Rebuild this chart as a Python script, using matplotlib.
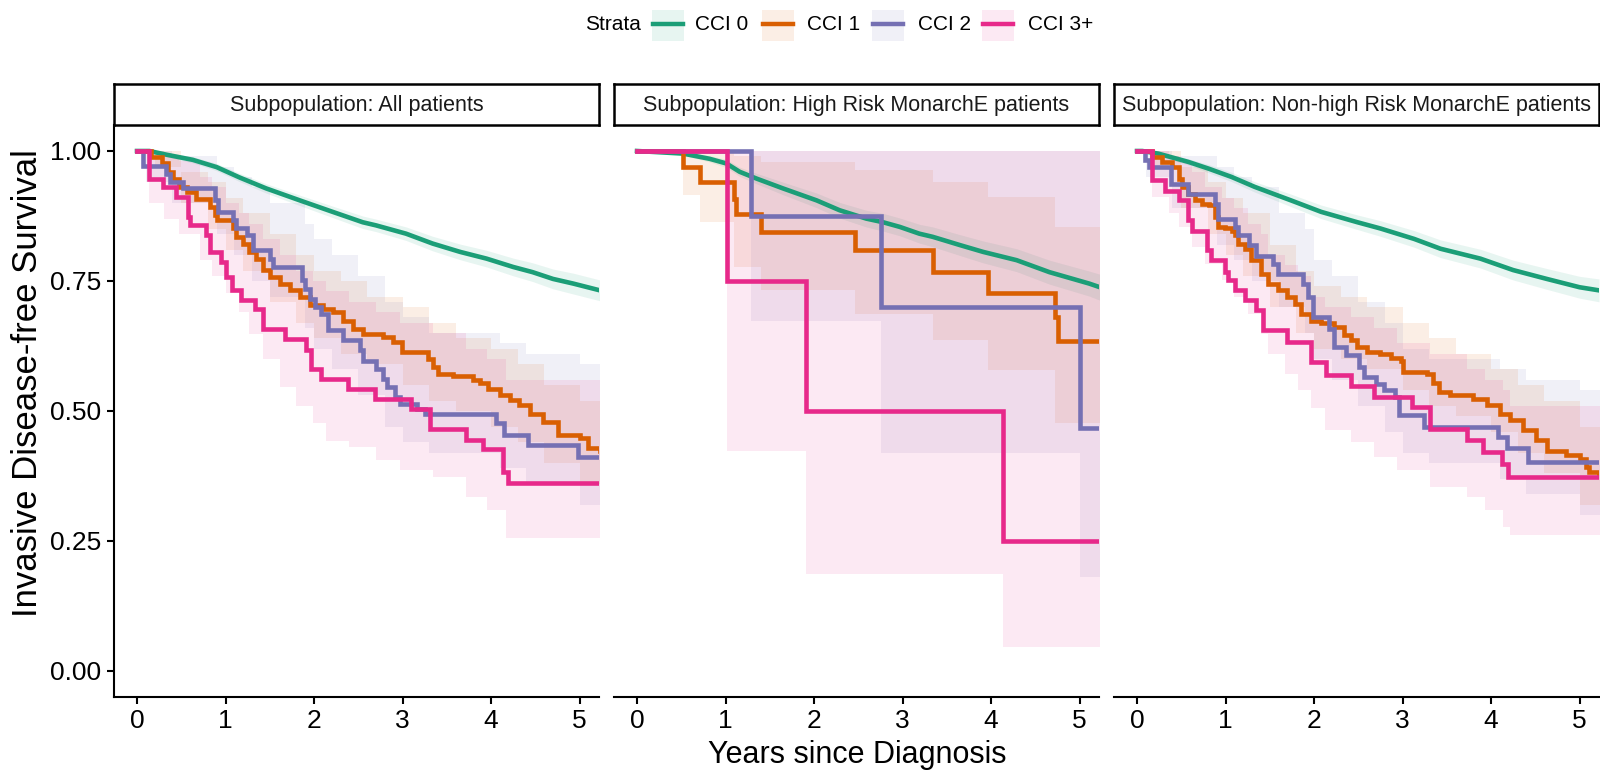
import matplotlib.pyplot as plt
from matplotlib.patches import Rectangle
from matplotlib.lines import Line2D

plt.rcParams['font.family'] = ['Liberation Sans', 'DejaVu Sans']

# ------------------------------------------------------------
# Kaplan-Meier estimates: time (years) -> iDFS probability
# ------------------------------------------------------------
strata = ['CCI 0', 'CCI 1', 'CCI 2', 'CCI 3+']
colors = ['#1B9E77', '#D95F02', '#7570B3', '#E7298A']
panel_titles = ['Subpopulation: All patients',
                'Subpopulation: High Risk MonarchE patients',
                'Subpopulation: Non-high Risk MonarchE patients']
x_ticks = [0, 1, 2, 3, 4, 5]
y_ticks = [0.0, 0.25, 0.5, 0.75, 1.0]
y_ticklabels = ['0.00', '0.25', '0.50', '0.75', '1.00']

# --- All patients ---
all_cci0_t = [0, 0.14, 0.33, 0.63, 0.90, 1.16, 1.46, 1.84, 2.21, 2.55, 2.70, 3.04, 3.34, 3.65, 3.95, 4.25, 4.47, 4.70, 4.93, 5.23]
all_cci0_s = [1.0, 1.0, 0.993, 0.983, 0.969, 0.949, 0.928, 0.905, 0.883, 0.863, 0.857, 0.841, 0.822, 0.806, 0.793, 0.777, 0.767, 0.754, 0.745, 0.732]
all_cci0_lo = [1.0, 0.998, 0.989, 0.977, 0.962, 0.941, 0.919, 0.895, 0.872, 0.851, 0.845, 0.828, 0.808, 0.791, 0.777, 0.760, 0.749, 0.735, 0.725, 0.712]
all_cci0_hi = [1.0, 1.0, 0.997, 0.989, 0.976, 0.957, 0.937, 0.915, 0.894, 0.875, 0.869, 0.854, 0.836, 0.821, 0.809, 0.794, 0.785, 0.773, 0.765, 0.752]

all_cci1_t = [0, 0.16, 0.28, 0.35, 0.41, 0.48, 0.56, 0.67, 0.82, 0.88, 0.90, 1.09, 1.12, 1.20, 1.27, 1.35, 1.42, 1.50, 1.61, 1.73,
              1.84, 1.95, 2.10, 2.22, 2.33, 2.44, 2.55, 2.78, 2.89, 2.99, 3.29, 3.35, 3.40, 3.57, 3.80, 3.87, 3.97, 4.10, 4.21, 4.32,
              4.44, 4.59, 4.76, 5.00, 5.10, 5.23]
all_cci1_s = [1.0, 0.988, 0.976, 0.960, 0.947, 0.931, 0.921, 0.908, 0.892, 0.876, 0.867, 0.851, 0.835, 0.822, 0.806, 0.793, 0.771, 0.758, 0.745, 0.732,
              0.719, 0.703, 0.697, 0.690, 0.674, 0.658, 0.649, 0.642, 0.633, 0.613, 0.600, 0.585, 0.572, 0.567, 0.559, 0.553, 0.543, 0.530, 0.521, 0.511,
              0.495, 0.479, 0.453, 0.448, 0.428, 0.424]
all_cci1_bt = [0, 0.2, 0.5, 0.8, 1.0, 1.2, 1.5, 1.8, 2.0, 2.3, 2.6, 3.0, 3.3, 3.6, 4.0, 4.3, 4.6, 5.0]
all_cci1_lo = [1.0, 0.97, 0.90, 0.85, 0.81, 0.77, 0.71, 0.67, 0.64, 0.61, 0.59, 0.55, 0.52, 0.50, 0.47, 0.44, 0.40, 0.36]
all_cci1_hi = [1.0, 1.0, 0.96, 0.94, 0.91, 0.88, 0.84, 0.80, 0.77, 0.75, 0.72, 0.70, 0.67, 0.64, 0.62, 0.59, 0.55, 0.52]

all_cci2_t = [0, 0.07, 0.33, 0.37, 0.52, 0.88, 0.92, 1.09, 1.12, 1.24, 1.31, 1.50, 1.54, 1.86, 1.90, 1.95, 2.01, 2.08, 2.16, 2.33,
              2.52, 2.55, 2.70, 2.78, 2.82, 2.91, 2.97, 3.16, 3.25, 4.06, 4.15, 4.42, 4.98, 5.23]
all_cci2_s = [1.0, 0.972, 0.956, 0.940, 0.928, 0.905, 0.883, 0.867, 0.851, 0.838, 0.809, 0.793, 0.777, 0.751, 0.735, 0.716, 0.700, 0.687, 0.655, 0.636,
              0.617, 0.597, 0.581, 0.562, 0.546, 0.527, 0.514, 0.504, 0.495, 0.476, 0.453, 0.434, 0.412, 0.412]
all_cci2_bt = [0, 0.1, 0.4, 0.9, 1.1, 1.3, 1.5, 1.9, 2.0, 2.2, 2.5, 2.8, 3.0, 3.3, 4.1, 4.4, 5.0]
all_cci2_lo = [1.0, 0.94, 0.90, 0.84, 0.80, 0.75, 0.72, 0.66, 0.62, 0.58, 0.53, 0.47, 0.44, 0.42, 0.39, 0.36, 0.32]
all_cci2_hi = [1.0, 1.0, 0.99, 0.97, 0.95, 0.93, 0.90, 0.86, 0.83, 0.80, 0.76, 0.71, 0.68, 0.65, 0.63, 0.61, 0.59]

all_cci3_t = [0, 0.14, 0.29, 0.44, 0.58, 0.60, 0.78, 0.82, 0.95, 1.01, 1.07, 1.18, 1.33, 1.42, 1.67, 1.91, 1.97, 2.08, 2.38, 2.69,
              3.10, 3.31, 3.72, 3.91, 4.14, 4.19, 5.23]
all_cci3_s = [1.0, 0.947, 0.931, 0.912, 0.873, 0.857, 0.838, 0.806, 0.787, 0.758, 0.732, 0.713, 0.697, 0.658, 0.639, 0.617, 0.581, 0.562, 0.543, 0.524,
              0.504, 0.466, 0.445, 0.426, 0.383, 0.362, 0.362]
all_cci3_bt = [0, 0.14, 0.30, 0.48, 0.71, 0.85, 1.01, 1.15, 1.27, 1.42, 1.61, 1.80, 1.99, 2.14, 2.40, 2.70, 2.97, 3.34, 3.72, 3.95, 4.17]
all_cci3_lo = [1.0, 0.90, 0.87, 0.84, 0.79, 0.76, 0.726, 0.69, 0.649, 0.60, 0.546, 0.51, 0.476, 0.443, 0.431, 0.405, 0.386, 0.373, 0.335, 0.309, 0.255]
all_cci3_hi = [1.0, 1.0, 0.99, 0.98, 0.95, 0.93, 0.90, 0.88, 0.86, 0.83, 0.80, 0.77, 0.75, 0.73, 0.71, 0.69, 0.67, 0.65, 0.62, 0.60, 0.56]

# --- High risk ---
hr_cci0_t = [0, 0.52, 0.82, 1.01, 1.16, 1.35, 1.65, 2.03, 2.29, 2.59, 2.78, 2.97, 3.19, 3.34, 3.65, 3.91, 4.29, 4.66, 5.11, 5.23]
hr_cci0_s = [1.0, 0.995, 0.985, 0.976, 0.960, 0.947, 0.928, 0.905, 0.886, 0.870, 0.863, 0.854, 0.841, 0.835, 0.819, 0.806, 0.790, 0.767, 0.745, 0.738]
hr_cci0_lo = [1.0, 0.992, 0.979, 0.968, 0.951, 0.937, 0.916, 0.891, 0.871, 0.854, 0.846, 0.837, 0.823, 0.816, 0.799, 0.785, 0.768, 0.744, 0.721, 0.713]
hr_cci0_hi = [1.0, 0.998, 0.991, 0.984, 0.969, 0.957, 0.940, 0.919, 0.901, 0.886, 0.880, 0.871, 0.859, 0.854, 0.839, 0.827, 0.812, 0.790, 0.769, 0.763]

hr_cci1_t = [0, 0.52, 0.71, 1.10, 1.12, 1.40, 2.46, 3.35, 3.97, 4.72, 4.76, 5.23]
hr_cci1_s = [1.0, 0.969, 0.940, 0.908, 0.879, 0.844, 0.810, 0.767, 0.726, 0.681, 0.635, 0.635]
hr_cci1_bt = [0, 0.52, 0.71, 1.10, 1.40, 2.46, 3.35, 3.97, 4.72]
hr_cci1_lo = [1.0, 0.915, 0.863, 0.777, 0.732, 0.687, 0.636, 0.578, 0.476]
hr_cci1_hi = [1.0, 1.0, 1.0, 0.99, 0.979, 0.963, 0.940, 0.912, 0.854]

hr_cci2_t = [0, 1.29, 2.76, 5.00, 5.23]
hr_cci2_s = [1.0, 0.875, 0.700, 0.467, 0.467]
hr_cci2_bt = [0, 1.29, 2.76, 5.00]
hr_cci2_lo = [1.0, 0.674, 0.419, 0.181]
hr_cci2_hi = [1.0, 1.0, 1.0, 1.0]

hr_cci3_t = [0, 1.02, 1.91, 4.14, 5.23]
hr_cci3_s = [1.0, 0.75, 0.50, 0.25, 0.25]
hr_cci3_bt = [0, 1.02, 1.91, 4.14]
hr_cci3_lo = [1.0, 0.424, 0.187, 0.046]
hr_cci3_hi = [1.0, 1.0, 1.0, 1.0]

# --- Non-high risk ---
nhr_cci0_t = [0, 0.06, 0.24, 0.58, 0.81, 1.07, 1.33, 1.74, 2.08, 2.49, 2.75, 3.13, 3.43, 3.88, 4.25, 4.63, 5.00, 5.22]
nhr_cci0_s = [1.0, 1.0, 0.995, 0.979, 0.966, 0.950, 0.931, 0.905, 0.883, 0.863, 0.851, 0.831, 0.812, 0.793, 0.771, 0.754, 0.738, 0.732]
nhr_cci0_lo = [1.0, 0.999, 0.991, 0.973, 0.958, 0.941, 0.921, 0.893, 0.870, 0.849, 0.836, 0.815, 0.795, 0.775, 0.752, 0.734, 0.717, 0.710]
nhr_cci0_hi = [1.0, 1.0, 0.999, 0.985, 0.974, 0.959, 0.941, 0.917, 0.896, 0.877, 0.866, 0.847, 0.829, 0.811, 0.790, 0.774, 0.759, 0.754]

nhr_cci1_t = [0, 0.17, 0.28, 0.39, 0.47, 0.51, 0.58, 0.66, 0.73, 0.81, 0.88, 0.92, 0.99, 1.07, 1.11, 1.14, 1.22, 1.29, 1.40, 1.48,
              1.59, 1.70, 1.78, 1.85, 1.97, 2.08, 2.23, 2.34, 2.42, 2.49, 2.60, 2.75, 2.87, 2.98, 3.00, 3.28, 3.35, 3.41, 3.54, 3.80,
              3.95, 4.10, 4.21, 4.36, 4.51, 4.63, 4.85, 5.00, 5.07, 5.11, 5.22]
nhr_cci1_s = [1.0, 0.988, 0.979, 0.969, 0.947, 0.931, 0.918, 0.905, 0.899, 0.896, 0.873, 0.854, 0.851, 0.847, 0.838, 0.822, 0.812, 0.790, 0.764, 0.745,
              0.732, 0.719, 0.706, 0.687, 0.674, 0.669, 0.662, 0.646, 0.636, 0.623, 0.613, 0.610, 0.601, 0.597, 0.575, 0.572, 0.553, 0.537, 0.530, 0.524,
              0.511, 0.495, 0.482, 0.463, 0.444, 0.424, 0.415, 0.408, 0.392, 0.383, 0.379]
nhr_cci1_bt = [0, 0.2, 0.5, 0.8, 1.0, 1.2, 1.5, 1.8, 2.0, 2.3, 2.6, 3.0, 3.3, 3.6, 4.0, 4.3, 4.6, 5.0]
nhr_cci1_lo = [1.0, 0.97, 0.89, 0.84, 0.80, 0.76, 0.70, 0.65, 0.62, 0.60, 0.58, 0.54, 0.51, 0.49, 0.46, 0.42, 0.38, 0.32]
nhr_cci1_hi = [1.0, 1.0, 0.97, 0.94, 0.91, 0.88, 0.82, 0.77, 0.74, 0.72, 0.70, 0.67, 0.64, 0.61, 0.58, 0.55, 0.52, 0.47]

nhr_cci2_t = [0, 0.09, 0.13, 0.38, 0.58, 0.88, 0.92, 1.11, 1.14, 1.26, 1.35, 1.54, 1.59, 1.87, 1.93, 1.99, 2.17, 2.23, 2.36, 2.51,
              2.57, 2.70, 2.79, 2.92, 2.96, 3.24, 4.08, 4.18, 4.42, 5.22]
nhr_cci2_s = [1.0, 0.982, 0.969, 0.937, 0.918, 0.899, 0.870, 0.854, 0.838, 0.819, 0.799, 0.783, 0.764, 0.745, 0.719, 0.681, 0.658, 0.623, 0.607, 0.585,
              0.565, 0.552, 0.540, 0.527, 0.492, 0.469, 0.450, 0.428, 0.402, 0.402]
nhr_cci2_bt = [0, 0.1, 0.4, 0.9, 1.1, 1.3, 1.6, 1.9, 2.0, 2.2, 2.5, 2.8, 3.0, 3.3, 4.1, 4.4, 5.0]
nhr_cci2_lo = [1.0, 0.95, 0.89, 0.82, 0.79, 0.75, 0.70, 0.65, 0.60, 0.56, 0.51, 0.46, 0.42, 0.40, 0.37, 0.34, 0.30]
nhr_cci2_hi = [1.0, 1.0, 0.99, 0.97, 0.95, 0.93, 0.88, 0.85, 0.79, 0.76, 0.71, 0.67, 0.62, 0.60, 0.58, 0.56, 0.54]

nhr_cci3_t = [0, 0.17, 0.32, 0.47, 0.58, 0.62, 0.79, 0.84, 0.99, 1.03, 1.11, 1.22, 1.35, 1.42, 1.70, 1.97, 2.14, 2.42, 2.68, 3.11,
              3.31, 3.73, 3.91, 4.12, 4.19, 5.22]
nhr_cci3_s = [1.0, 0.944, 0.924, 0.905, 0.867, 0.847, 0.809, 0.790, 0.767, 0.751, 0.732, 0.713, 0.694, 0.655, 0.633, 0.594, 0.569, 0.549, 0.527, 0.508,
              0.466, 0.444, 0.421, 0.399, 0.373, 0.373]
nhr_cci3_bt = [0, 0.17, 0.36, 0.47, 0.62, 0.77, 0.96, 1.10, 1.25, 1.40, 1.48, 1.67, 1.82, 1.97, 2.12, 2.42, 2.68, 2.94, 3.31, 3.73, 3.93, 4.14, 4.21]
nhr_cci3_lo = [1.0, 0.912, 0.88, 0.854, 0.815, 0.783, 0.751, 0.719, 0.687, 0.649, 0.61, 0.572, 0.540, 0.505, 0.463, 0.440, 0.411, 0.386, 0.354, 0.335, 0.309, 0.277, 0.261]
nhr_cci3_hi = [1.0, 1.0, 0.99, 0.98, 0.96, 0.93, 0.91, 0.89, 0.86, 0.84, 0.80, 0.78, 0.76, 0.72, 0.70, 0.68, 0.66, 0.63, 0.61, 0.58, 0.56, 0.54, 0.51]

# (time, surv, band time, band lo, band hi, stepped?)  CCI 0 is a large group -> drawn smooth
panels = [
    [(all_cci0_t, all_cci0_s, all_cci0_t, all_cci0_lo, all_cci0_hi, False),
     (all_cci1_t, all_cci1_s, all_cci1_bt, all_cci1_lo, all_cci1_hi, True),
     (all_cci2_t, all_cci2_s, all_cci2_bt, all_cci2_lo, all_cci2_hi, True),
     (all_cci3_t, all_cci3_s, all_cci3_bt, all_cci3_lo, all_cci3_hi, True)],
    [(hr_cci0_t, hr_cci0_s, hr_cci0_t, hr_cci0_lo, hr_cci0_hi, False),
     (hr_cci1_t, hr_cci1_s, hr_cci1_bt, hr_cci1_lo, hr_cci1_hi, True),
     (hr_cci2_t, hr_cci2_s, hr_cci2_bt, hr_cci2_lo, hr_cci2_hi, True),
     (hr_cci3_t, hr_cci3_s, hr_cci3_bt, hr_cci3_lo, hr_cci3_hi, True)],
    [(nhr_cci0_t, nhr_cci0_s, nhr_cci0_t, nhr_cci0_lo, nhr_cci0_hi, False),
     (nhr_cci1_t, nhr_cci1_s, nhr_cci1_bt, nhr_cci1_lo, nhr_cci1_hi, True),
     (nhr_cci2_t, nhr_cci2_s, nhr_cci2_bt, nhr_cci2_lo, nhr_cci2_hi, True),
     (nhr_cci3_t, nhr_cci3_s, nhr_cci3_bt, nhr_cci3_lo, nhr_cci3_hi, True)],
]

X_END = 5.5
BAND_ALPHA = 0.1
W, H = 1600, 776

fig = plt.figure(figsize=(16, 7.76), dpi=100)


def fx(px):
    return px / W


def fy(px):
    return 1 - px / H


# panel geometry in pixels
panel_left = [114, 614, 1114]
panel_w = 485
panel_top, panel_bot = 125, 697
strip_top = 84

for k, (curves, title) in enumerate(zip(panels, panel_titles)):
    ax = fig.add_axes([fx(panel_left[k]), fy(panel_bot), panel_w / W, (panel_bot - panel_top) / H])

    # confidence bands first, then the curves on top
    for (t, s, bt, lo, hi, stepped), col in zip(curves, colors):
        if stepped:
            ax.fill_between(bt + [X_END], lo + [lo[-1]], hi + [hi[-1]], step='post',
                            color=col, alpha=BAND_ALPHA, lw=0)
        else:
            ax.fill_between(bt, lo, hi, color=col, alpha=BAND_ALPHA, lw=0)
    for (t, s, bt, lo, hi, stepped), col in zip(curves, colors):
        if stepped:
            ax.step(t + [X_END], s + [s[-1]], where='post', color=col, lw=3.3,
                    solid_joinstyle='miter')
        else:
            ax.plot(t, s, color=col, lw=3.3)

    ax.set_xlim(-0.26, 5.22)
    ax.set_ylim(-0.05, 1.05)
    ax.set_xticks(x_ticks)
    ax.set_xticklabels([str(v) for v in x_ticks], fontsize=19)
    ax.tick_params(axis='both', length=5, width=1.5, color='black', pad=4)
    for side in ['top', 'right']:
        ax.spines[side].set_visible(False)
    ax.spines['bottom'].set_linewidth(1.5)
    if k == 0:
        ax.spines['left'].set_linewidth(1.5)
        ax.set_yticks(y_ticks)
        ax.set_yticklabels(y_ticklabels, fontsize=19)
    else:
        ax.spines['left'].set_visible(False)
        ax.set_yticks([])

    # facet strip
    sax = fig.add_axes([fx(panel_left[k]), fy(panel_top), panel_w / W, (panel_top - strip_top) / H])
    sax.set_xticks([])
    sax.set_yticks([])
    for sp in sax.spines.values():
        sp.set_linewidth(1.8)
        sp.set_color('black')
    sax.text(0.5, 0.47, title, ha='center', va='center', fontsize=15.5,
             color='#1a1a1a', transform=sax.transAxes)

fig.text(fx(857), fy(763), 'Years since Diagnosis', ha='center', va='baseline', fontsize=22)
fig.text(fx(28), fy(383), 'Invasive Disease-free Survival', ha='center', va='center',
         rotation=90, fontsize=25)

# legend across the top
fig.text(fx(585), fy(25), 'Strata', ha='left', va='center', fontsize=15)
key_x = [652, 762, 872, 982]
lab_x = [695, 807, 918, 1028]
for name, col, kx, lx in zip(strata, colors, key_x, lab_x):
    fig.add_artist(Rectangle((fx(kx), fy(41)), 32 / W, 31 / H, transform=fig.transFigure,
                             facecolor=col, alpha=BAND_ALPHA, lw=0))
    fig.add_artist(Line2D([fx(kx + 1), fx(kx + 31)], [fy(23.5), fy(23.5)],
                          transform=fig.transFigure, color=col, lw=3.2))
    fig.text(fx(lx), fy(25), name, ha='left', va='center', fontsize=15)

fig.savefig('out.png', dpi=100)
